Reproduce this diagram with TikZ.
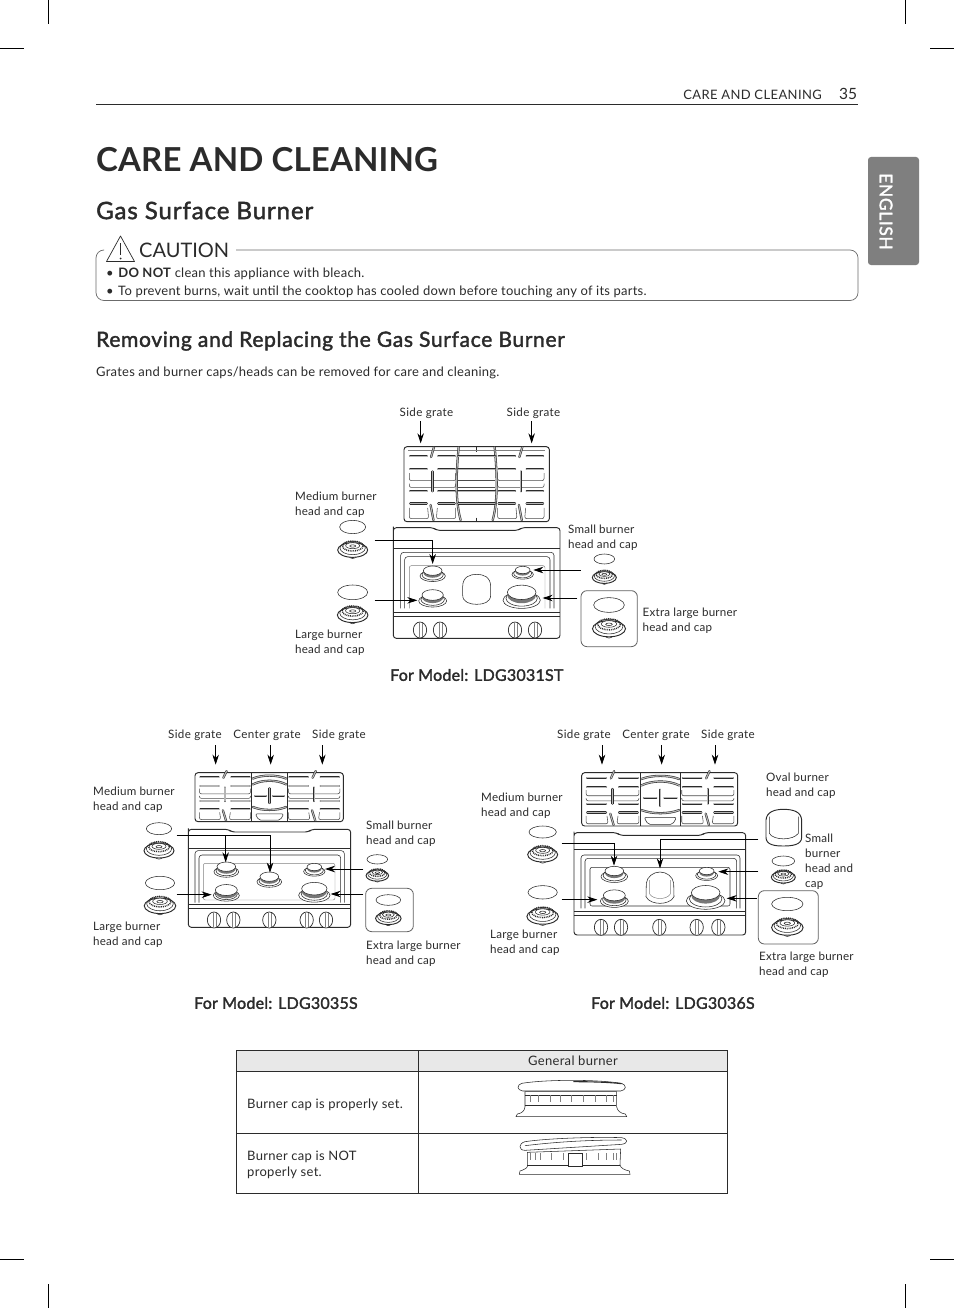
\documentclass[tikz,border=0pt]{standalone}
\usepackage{fontspec}
\setmainfont{Lato}
\newfontfamily\medf{Lato}[FakeBold=1.8]
\usetikzlibrary{arrows.meta}
\definecolor{ink}{HTML}{2B2B2B}
\definecolor{tabgrey}{HTML}{7F7F7F}
\definecolor{headgrey}{HTML}{E8E8E8}
\definecolor{teeth}{HTML}{777777}
\newcommand\ls[1]{\addfontfeature{LetterSpace=#1}}
\tikzset{
 lab/.style={inner sep=0,anchor=west,align=left,text=ink,yshift=-.8pt,font=\fontsize{11.6}{15}\selectfont\ls{1.9}},
 clab/.style={inner sep=0,anchor=center,text=ink,text height=9pt,text depth=3pt,yshift=-1pt,font=\fontsize{11.6}{15}\selectfont\ls{3.2}},
 body/.style={inner sep=0,anchor=west,align=left,text=ink,yshift=-1.6pt,font=\fontsize{13}{16}\selectfont\ls{1.8}},
 cellt/.style={inner sep=0,anchor=west,align=left,text=ink,yshift=-1.4pt,font=\fontsize{13}{16}\selectfont\ls{2.3}},
 model/.style={inner sep=0,anchor=west,text=ink,font=\fontsize{16}{18}\medf\ls{1.5}},
 arr/.style={draw=black,line width=.8pt,-{Stealth[length=10pt,width=6.5pt]}},
 crop/.style={draw=black,line width=.5pt},
 lin/.style={draw=ink,line width=.55pt},
 heavy/.style={draw=ink,line width=.95pt},
 tube/.style={draw=ink,line width=.55pt,double=ink!35,double distance=1.1pt,line cap=round},
 bgl/.style={draw=ink!60,line width=.45pt},
 grl/.style={draw=ink!85,line width=.55pt},
 zoomA/.style={shift={(280,395)},scale=.33333},
 zoomB/.style={shift={(85,720)},scale=.33333},
 zoomC/.style={shift={(475,720)},scale=.33333},
 zoomD/.style={shift={(230,1045)},scale=.33333},
 box/.style={draw=ink!75,line width=.8pt,rounded corners=6pt},
}
\newcommand\headpart[3]{%
 \begin{scope}[shift={(#1,#2)},scale=#3]
  \filldraw[lin,fill=white] (-12,30) .. controls (-6,40) and (6,40) .. (12,30);
  \draw[heavy,fill=white] (0,12) ellipse [x radius=45,y radius=22];
  \draw[lin] (0,6) ellipse [x radius=38,y radius=20];
  \draw[draw=ink,line width=1.5pt,dash pattern=on .9pt off .9pt] (0,0) ellipse [x radius=31,y radius=15];
  \draw[lin,fill=white] (0,-1) ellipse [x radius=21,y radius=9];
  \draw[lin] (0,0) ellipse [x radius=9,y radius=3.5];
 \end{scope}}
\newcommand\capat[4]{\draw[lin,fill=white] (#1,#2) ellipse [x radius=#3,y radius=#4];}
\newcommand\stove[4]{%
 \begin{scope}[shift={(#1,#2)}]
  \draw[lin,fill=white] (0,{.42*#4}) ellipse [x radius=#4,y radius={.44*#4}];
  \draw[lin] (0,{.32*#4}) ellipse [x radius={.84*#4},y radius={.42*#4}];
  \fill[teeth] (0,{.2*#3}) ellipse [x radius=#3,y radius={.56*#3}];
  \draw[lin,fill=white] (0,0) ellipse [x radius=#3,y radius={.5*#3}];
 \end{scope}}
% one cross cell of a grate
\newcommand\cell[4]{%
 \begin{scope}[shift={(#1,#3)},xscale={#2-#1},yscale={#4-#3}]
  \foreach \yy in {.14,.31,.6,.76}{
   \draw[tube] (.04,\yy) -- (.38,\yy);
   \draw[tube] (.62,\yy) -- (.96,\yy);}
  \draw[grl,rounded corners=2pt] (.02,.36) -- (.02,.46) -- (.98,.46) -- (.98,.36);
  \draw[grl,rounded corners=2pt] (.02,.5) -- (.02,.55) -- (.98,.55) -- (.98,.5);
  \draw[grl,rounded corners=2pt] (.02,.82) -- (.02,.96) -- (.42,.96) -- (.4,.82);
  \draw[grl,rounded corners=2pt] (.98,.82) -- (.98,.96) -- (.58,.96) -- (.6,.82);
  \draw[tube] (.53,.02) -- (.47,.15);
  \draw[tube] (.5,.34) -- (.5,.6);
  \draw[tube] (.46,.78) -- (.52,.98);
 \end{scope}}
\newcommand\midcell[4]{%
 \begin{scope}[shift={(#1,#3)},xscale={#2-#1},yscale={#4-#3}]
  \draw[tube] (.05,.02) .. controls (0,.3) and (-.05,.7) .. (.1,.98);
  \draw[tube] (.95,.02) .. controls (1,.3) and (1.05,.7) .. (.9,.98);
  \foreach \yy in {.14,.31,.6,.76}{\draw[tube] (.04,\yy) -- (.96,\yy);}
  \draw[grl] (.04,.46) -- (.96,.46);
  \draw[grl] (.04,.55) -- (.96,.55);
 \end{scope}}
\newcommand\centercell[4]{%
 \begin{scope}[shift={(#1,#3)},xscale={#2-#1},yscale={#4-#3}]
  \draw[lin] (0,0) -- (0,1); \draw[lin] (1,0) -- (1,1);
  \draw[tube] (.03,.12) .. controls (.3,.04) and (.7,.04) .. (.97,.12);
  \draw[tube] (.03,.24) .. controls (.3,.14) and (.7,.14) .. (.97,.24);
  \draw[tube] (.03,.7) .. controls (.3,.78) and (.7,.78) .. (.97,.7);
  \draw[tube] (.1,.47) -- (.4,.47);
  \draw[tube] (.6,.47) -- (.9,.47);
  \draw[tube] (.5,.32) -- (.5,.62);
  \draw[lin,rounded corners=2pt] (.1,.84) -- (.2,.97) -- (.8,.97) -- (.9,.84) -- cycle;
 \end{scope}}
\newcommand\range[8]{%
 \draw[heavy,rounded corners=3pt] (#1,#3+6) -- (#1,#4) -- (#2,#4) -- (#2,#3) -- (#6,#3) -- (#6-10,#3+8) -- (#5+10,#3+8) -- (#5,#3) -- (#1,#3) -- cycle;
 \draw[lin] (#1,#7) -- (#2,#7);
 \draw[heavy] (#1,#8) -- (#2,#8);
 \draw[lin] (#1,#8+12) -- (#2,#8+12);}
\newcommand\knob[2]{%
 \draw[draw=ink,line width=.7pt,fill=white] (#1,#2) ellipse [x radius=20,y radius=24];
 \draw[bgl] (#1-3,#2-23) -- (#1-3,#2+23);
 \draw[bgl] (#1+6,#2-21) -- (#1+6,#2+21);}
\begin{document}
\begin{tikzpicture}[x=1pt,y=-1pt]
\useasboundingbox (0,0) rectangle (954,1308);
\fill[white] (0,0) rectangle (954,1308);
% crop marks
\draw[crop] (0,48) -- (24,48); \draw[crop] (48,0) -- (48,24);
\draw[crop] (930,48) -- (954,48); \draw[crop] (905,0) -- (905,24);
\draw[crop] (0,1259) -- (24,1259); \draw[crop] (48,1284) -- (48,1308);
\draw[crop] (930,1259) -- (954,1259); \draw[crop] (905,1284) -- (905,1308);
% header
\node[inner sep=0,anchor=east,text=ink,font=\fontsize{13}{16}\selectfont\ls{3}] (hdr) at (822,94.5) {CARE AND CLEANING};
\node[inner sep=0,anchor=center,text=ink,font=\fontsize{15.5}{18}\selectfont] (pg) at (848,93.5) {35};
\draw[draw=ink,line width=1pt] (96,104.5) -- (858,104.5);
\node[inner sep=0,anchor=west,text=ink,font=\fontsize{33}{36}\bfseries\selectfont\ls{.4}] (title) at (96,160) {CARE AND CLEANING};
\node[inner sep=0,anchor=west,text=ink,font=\fontsize{24}{26}\medf\ls{3.8}] (sub) at (96,210.5) {Gas Surface Burner};
% tab
\fill[tabgrey,rounded corners=3pt] (919,157) -- (868,157) -- (868,265) -- (919,265) -- cycle;
\node[inner sep=0,rotate=-90,text=white,font=\fontsize{17.5}{20}\medf\ls{3.3}] (tab) at (886,211.5) {ENGLISH};
% caution
\draw[draw=ink!70,line width=.7pt,rounded corners=8pt] (236,250) -- (858,250) -- (858,300.5) -- (96,300.5) -- (96,250) -- (103.5,250);
\draw[draw=ink,line width=.7pt,line join=round] (120.5,236) -- (106.5,261.5) -- (134.5,261.5) -- cycle;
\draw[draw=ink,line width=1.5pt] (120.5,243) -- (120.5,255);
\fill[ink] (120.5,258.5) circle (1);
\node[inner sep=0,anchor=west,text=ink,font=\fontsize{20}{24}\selectfont] (caut) at (139,250.5) {CAUTION};
\node[body] (c1) at (106,272.5) {•\hspace{4.5pt}\textbf{DO NOT} clean this appliance with bleach.};
\node[body] (c2) at (106,290.5) {•\hspace{4.5pt}To prevent burns, wait until the cooktop has cooled down before touching any of its parts.};
\node[inner sep=0,anchor=west,text=ink,font=\fontsize{21}{24}\medf\ls{3.2}] (h2) at (96,341) {Removing and Replacing the Gas Surface Burner};
\node[body] (intro) at (96,371.5) {Grates and burner caps/heads can be removed for care and cleaning.};

%%%%% FIGURE 1
\begin{scope}[zoomA]
 \draw[heavy,rounded corners=3pt] (372,155) rectangle (808,380);
 \draw[lin] (590,155) -- (590,170); \draw[lin] (590,368) -- (590,380);
 \draw[bgl] (385,165) -- (795,165);
 \cell{385}{530}{152}{380}
 \midcell{530}{650}{152}{380}
 \cell{650}{795}{152}{380}
 \range{340}{840}{398}{730}{460}{725}{460}{652}
 \draw[lin,rounded corners=3pt] (362,640) -- (362,472) -- (822,472) -- (822,640);
 \draw[lin,rounded corners=3pt] (374,640) -- (374,485) -- (810,485) -- (810,640);
 \draw[bgl,rounded corners=2pt] (388,640) -- (388,512) -- (795,512) -- (795,640);
 \foreach \kx in {420,480,705,765}{\knob{\kx}{705}}
 \stove{458}{527}{28}{38}
 \stove{458}{600}{32}{42}
 \stove{728}{525}{22}{32}
 \stove{725}{592}{43}{56}
 \draw[lin,fill=white] (548,575) .. controls (548,545) and (570,538) .. (590,538) .. controls (610,538) and (632,545) .. (632,575) -- (632,600) .. controls (632,622) and (610,628) .. (590,628) .. controls (570,628) and (548,622) .. (548,600) -- cycle;
 \capat{218}{396}{39}{20}\headpart{218}{453}{1}
 \capat{218}{592}{45}{22}\headpart{218}{648}{1.02}
 \capat{973}{492}{31}{15}\headpart{973}{538}{.8}
 \draw[box] (903,587) rectangle (1072,755);
 \capat{987}{630}{46}{22}\headpart{987}{688}{1.1}
 \coordinate (m1a) at (284,436); \coordinate (m1b) at (458,436); \coordinate (m1c) at (458,507);
 \coordinate (l1a) at (284,616); \coordinate (l1b) at (412,616);
 \coordinate (s1a) at (902,525); \coordinate (s1b) at (760,525);
 \coordinate (x1a) at (892,609); \coordinate (x1b) at (788,609);
 \coordinate (g1a) at (422,78); \coordinate (g1b) at (422,145);
 \coordinate (g2a) at (755,78); \coordinate (g2b) at (755,145);
\end{scope}
\draw[arr] (m1a) -- (m1b) -- (m1c);
\draw[arr] (l1a) -- (l1b);
\draw[arr] (s1a) -- (s1b);
\draw[arr] (x1a) -- (x1b);
\draw[arr] (g1a) -- (g1b);
\draw[arr] (g2a) -- (g2b);
\node[clab] (t1a) at (426.5,412) {Side grate};
\node[clab] (t1b) at (533.5,412) {Side grate};
\node[lab] (t1c) at (295,503.5) {Medium burner\\head and cap};
\node[lab] (t1d) at (568,536.5) {Small burner\\head and cap};
\node[lab] (t1e) at (642.5,619.5) {Extra large burner\\head and cap};
\node[lab] (t1f) at (295,641.5) {Large burner\\head and cap};
\node[model] (t1m) at (390,675) {For Model: LDG3031ST};

%%%%% FIGURE 2
\begin{scope}[zoomB]
 \draw[heavy,rounded corners=3pt] (330,158) rectangle (775,305);
 \cell{340}{500}{150}{305}
 \cell{607}{768}{150}{305}
 \centercell{500}{607}{158}{305}
 \range{310}{797}{328}{622}{430}{680}{385}{552}
 \draw[lin,rounded corners=3pt] (330,548) -- (330,392) -- (778,392) -- (778,548);
 \draw[lin,rounded corners=3pt] (342,548) -- (342,405) -- (767,405) -- (767,548);
 \draw[bgl,rounded corners=2pt] (355,540) -- (355,430) -- (750,430) -- (750,540) -- cycle;
 \foreach \kx in {387,445,553,665,723}{\knob{\kx}{600}}
 \stove{424}{440}{28}{37}
 \stove{553}{470}{28}{37}
 \stove{688}{441}{22}{32}
 \stove{424}{510}{33}{39}
 \stove{688}{506}{38}{47}
 \capat{222}{326}{38}{18}\headpart{222}{380}{1}
 \capat{225}{489}{44}{20}\headpart{225}{545}{1.05}
 \capat{877}{418}{31}{14}\headpart{877}{458}{.75}
 \draw[box] (842,505) rectangle (985,635);
 \capat{910}{540}{37}{16}\headpart{910}{585}{.85}
 \coordinate (m2a) at (275,346); \coordinate (m2b) at (555,346); \coordinate (m2c) at (555,458);
 \coordinate (m2d) at (422,346); \coordinate (m2e) at (422,427);
 \coordinate (l2a) at (275,524); \coordinate (l2b) at (380,524);
 \coordinate (s2a) at (835,447); \coordinate (s2b) at (720,447);
 \coordinate (x2a) at (835,522); \coordinate (x2b) at (737,522);
 \coordinate (g3a) at (392,75); \coordinate (g3b) at (392,134);
 \coordinate (g4a) at (557,75); \coordinate (g4b) at (557,134);
 \coordinate (g5a) at (712,75); \coordinate (g5b) at (712,134);
\end{scope}
\draw[arr] (m2a) -- (m2b) -- (m2c);
\draw[arr] (m2d) -- (m2e);
\draw[arr] (l2a) -- (l2b);
\draw[arr] (s2a) -- (s2b);
\draw[arr] (x2a) -- (x2b);
\draw[arr] (g3a) -- (g3b);
\draw[arr] (g4a) -- (g4b);
\draw[arr] (g5a) -- (g5b);
\node[clab] (t2a) at (195,734) {Side grate};
\node[clab] (t2b) at (267,734) {Center grate};
\node[clab] (t2c) at (339,734) {Side grate};
\node[lab] (t2d) at (93,798.5) {Medium burner\\head and cap};
\node[lab] (t2e) at (366,832.5) {Small burner\\head and cap};
\node[lab] (t2f) at (93,933.5) {Large burner\\head and cap};
\node[lab] (t2g) at (366,952.5) {Extra large burner\\head and cap};
\node[model] (t2m) at (194,1003) {For Model: LDG3035S};

%%%%% FIGURE 3
\begin{scope}[zoomC]
 \draw[heavy,rounded corners=3pt] (320,158) rectangle (788,318);
 \cell{330}{495}{150}{318}
 \cell{617}{780}{150}{318}
 \centercell{495}{617}{158}{318}
 \range{297}{812}{338}{645}{425}{690}{388}{575}
 \draw[lin,rounded corners=3pt] (318,565) -- (318,405) -- (795,405) -- (795,565);
 \draw[lin,rounded corners=3pt] (330,565) -- (330,415) -- (785,415) -- (785,565);
 \draw[lin,rounded corners=2pt] (345,558) -- (345,442) -- (765,442) -- (765,558) -- cycle;
 \foreach \kx in {378,438,553,665,730}{\knob{\kx}{622}}
 \stove{418}{453}{28}{40}
 \stove{418}{526}{33}{42}
 \stove{695}{453}{22}{33}
 \stove{692}{518}{43}{58}
 \draw[lin,fill=white] (514,490) .. controls (516,470) and (535,456) .. (555,456) .. controls (575,456) and (594,470) .. (596,490) -- (597,530) .. controls (590,545) and (570,550) .. (555,550) .. controls (540,550) and (520,545) .. (513,530) -- cycle;
 \draw[bgl] (524,480) -- (524,522) .. controls (535,540) and (575,540) .. (586,522) -- (586,480);
 \capat{203}{336}{41}{18}\headpart{203}{392}{1}
 \capat{203}{517}{44}{20}\headpart{203}{577}{1.05}
 \draw[heavy,fill=white] (873,300) .. controls (875,275) and (900,268) .. (925,268) .. controls (955,268) and (978,275) .. (980,300) -- (980,352) .. controls (980,375) and (950,378) .. (925,378) .. controls (900,378) and (873,375) .. (873,352) -- cycle;
 \draw[lin] (883,290) -- (883,340) .. controls (895,362) and (955,362) .. (970,340) -- (970,290);
 \capat{925}{423}{34}{15}\headpart{925}{462}{.8}
 \draw[box] (850,512) rectangle (1030,672);
 \capat{937}{552}{47}{20}\headpart{937}{610}{1.05}
 \coordinate (m3a) at (260,370); \coordinate (m3b) at (417,370); \coordinate (m3c) at (417,437);
 \coordinate (o3a) at (850,357); \coordinate (o3b) at (555,357); \coordinate (o3c) at (555,445);
 \coordinate (l3a) at (260,539); \coordinate (l3b) at (367,539);
 \coordinate (s3a) at (850,455); \coordinate (s3b) at (730,455);
 \coordinate (x3a) at (845,535); \coordinate (x3b) at (755,535);
 \coordinate (g6a) at (381,75); \coordinate (g6b) at (381,134);
 \coordinate (g7a) at (560,75); \coordinate (g7b) at (560,134);
 \coordinate (g8a) at (720,75); \coordinate (g8b) at (720,134);
\end{scope}
\draw[arr] (m3a) -- (m3b) -- (m3c);
\draw[arr] (o3a) -- (o3b) -- (o3c);
\draw[arr] (l3a) -- (l3b);
\draw[arr] (s3a) -- (s3b);
\draw[arr] (x3a) -- (x3b);
\draw[arr] (g6a) -- (g6b);
\draw[arr] (g7a) -- (g7b);
\draw[arr] (g8a) -- (g8b);
\node[clab] (t3a) at (584,734) {Side grate};
\node[clab] (t3b) at (656,734) {Center grate};
\node[clab] (t3c) at (728,734) {Side grate};
\node[lab] (t3d) at (481,804.5) {Medium burner\\head and cap};
\node[lab] (t3e) at (766,784.5) {Oval burner\\head and cap};
\node[lab] (t3f) at (805,860.5) {Small\\burner\\head and\\cap};
\node[lab] (t3g) at (490,941.5) {Large burner\\head and cap};
\node[lab] (t3h) at (759,963.5) {Extra large burner\\head and cap};
\node[model] (t3m) at (591,1003) {For Model: LDG3036S};

%%%%% TABLE
\fill[headgrey] (236,1050.5) rectangle (727.5,1071.5);
\draw[draw=ink,line width=.8pt] (236,1050.5) rectangle (727.5,1193.5);
\draw[draw=ink,line width=.8pt] (236,1071.5) -- (727.5,1071.5);
\draw[draw=ink,line width=.8pt] (236,1133.5) -- (727.5,1133.5);
\draw[draw=ink,line width=.8pt] (418.5,1050.5) -- (418.5,1193.5);
\node[cellt,anchor=center,yshift=1.4pt] (tg) at (573,1061) {General burner};
\node[cellt] (tp) at (247,1103) {Burner cap is properly set.};
\node[cellt] (tn) at (247,1163) {Burner cap is NOT\\properly set.};
\begin{scope}[zoomD]
 \draw[lin,fill=white] (885,140) -- (885,185) .. controls (884,198) and (875,205) .. (862,207) -- (858,215) -- (1190,215) -- (1186,207) .. controls (1172,205) and (1162,198) .. (1160,185) -- (1160,140) -- cycle;
 \draw[lin] (885,150) -- (1160,150);
 \draw[lin] (886,180) -- (1159,180);
 \foreach \tx in {900,925,960,990,1025,1060,1095,1130,1150}{\draw[bgl] (\tx,150) -- (\tx,170);}
 \draw[lin,fill=white] (875,115) .. controls (950,103) and (1100,103) .. (1175,115) .. controls (1190,120) and (1190,135) .. (1172,138) -- (878,138) .. controls (860,135) and (860,120) .. (875,115) -- cycle;
 \draw[draw=ink,line width=1.1pt] (1030,110) .. controls (1090,110) and (1140,112) .. (1175,116);
 % not set
 \draw[lin,fill=white] (892,322) -- (892,365) .. controls (890,370) and (880,375) .. (870,378) -- (868,388) -- (1200,388) -- (1198,378) .. controls (1185,375) and (1172,370) .. (1170,360) -- (1172,312) -- cycle;
 \draw[lin] (892,360) -- (1170,360);
 \foreach \tx in {900,915,930,965,1000,1070,1105,1130,1150,1160}{\draw[bgl] (\tx,325) -- (\tx,345);}
 \draw[lin,fill=white] (885,290) .. controls (950,280) and (1100,275) .. (1175,278) .. controls (1195,282) and (1195,295) .. (1175,298) -- (885,316) .. controls (865,316) and (865,295) .. (885,290) -- cycle;
 \draw[lin] (885,302) .. controls (1000,288) and (1100,285) .. (1175,285);
 \draw[draw=ink,line width=.8pt,fill=white] (1015,325) rectangle (1058,365);
\end{scope}
\end{tikzpicture}
\end{document}
